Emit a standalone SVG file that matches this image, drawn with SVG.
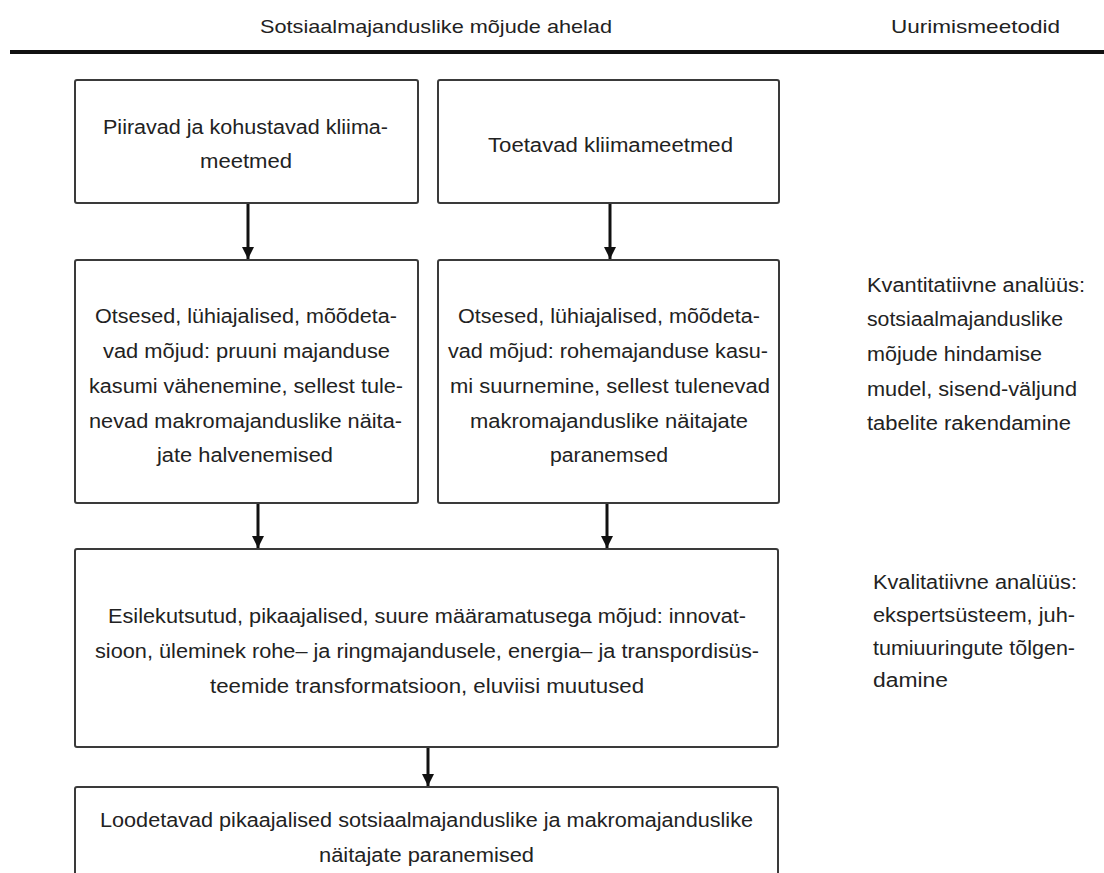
<svg xmlns="http://www.w3.org/2000/svg" width="1104" height="873" viewBox="0 0 1104 873">
<style>
.box{fill:#fff;stroke:#3a3a3a;stroke-width:2}
.t{font-family:"Liberation Sans",Arial,sans-serif;font-size:20px;fill:#222}
.h{font-family:"Liberation Sans",Arial,sans-serif;font-size:19px;fill:#222}
.c{stroke:#111;stroke-width:3;fill:none}
</style>
<defs>
<marker id="ah" markerUnits="userSpaceOnUse" markerWidth="14" markerHeight="14" refX="12" refY="7" orient="auto">
<path d="M0,1 L12,7 L0,13 Z" fill="#111"/>
</marker>
</defs>
<rect width="1104" height="873" fill="#fff"/>
<g id="header">
<text class="h" x="260" y="33" textLength="352" lengthAdjust="spacingAndGlyphs">Sotsiaalmajanduslike mõjude ahelad</text>
<text class="h" x="891" y="33" textLength="169" lengthAdjust="spacingAndGlyphs">Uurimismeetodid</text>
<line x1="10" y1="52" x2="1104" y2="52" stroke="#111" stroke-width="4"/>
</g>
<g id="n1">
<rect class="box" x="75" y="80" width="343" height="123" rx="2"/>
<text class="t" x="103" y="134" textLength="285" lengthAdjust="spacingAndGlyphs">Piiravad ja kohustavad kliima-</text>
<text class="t" x="200" y="168" textLength="92" lengthAdjust="spacingAndGlyphs">meetmed</text>
</g>
<g id="n2">
<rect class="box" x="438" y="80" width="341" height="123" rx="2"/>
<text class="t" x="488" y="152" textLength="245" lengthAdjust="spacingAndGlyphs">Toetavad kliimameetmed</text>
</g>
<g id="n3">
<rect class="box" x="75" y="260" width="343" height="243" rx="2"/>
<text class="t" x="95" y="323" textLength="302" lengthAdjust="spacingAndGlyphs">Otsesed, lühiajalised, mõõdeta-</text>
<text class="t" x="103" y="358" textLength="287" lengthAdjust="spacingAndGlyphs">vad mõjud: pruuni majanduse</text>
<text class="t" x="89" y="393" textLength="314" lengthAdjust="spacingAndGlyphs">kasumi vähenemine, sellest tule-</text>
<text class="t" x="89" y="428" textLength="313" lengthAdjust="spacingAndGlyphs">nevad makromajanduslike näita-</text>
<text class="t" x="157" y="462" textLength="176" lengthAdjust="spacingAndGlyphs">jate halvenemised</text>
</g>
<g id="n4">
<rect class="box" x="438" y="260" width="341" height="243" rx="2"/>
<text class="t" x="458" y="323" textLength="302" lengthAdjust="spacingAndGlyphs">Otsesed, lühiajalised, mõõdeta-</text>
<text class="t" x="448" y="358" textLength="320" lengthAdjust="spacingAndGlyphs">vad mõjud: rohemajanduse kasu-</text>
<text class="t" x="450" y="393" textLength="320" lengthAdjust="spacingAndGlyphs">mi suurnemine, sellest tulenevad</text>
<text class="t" x="470" y="428" textLength="278" lengthAdjust="spacingAndGlyphs">makromajanduslike näitajate</text>
<text class="t" x="550" y="462" textLength="118" lengthAdjust="spacingAndGlyphs">paranemsed</text>
</g>
<g id="n5">
<rect class="box" x="75" y="549" width="703" height="198" rx="2"/>
<text class="t" x="108" y="623" textLength="638" lengthAdjust="spacingAndGlyphs">Esilekutsutud, pikaajalised, suure määramatusega mõjud: innovat-</text>
<text class="t" x="95" y="658" textLength="664" lengthAdjust="spacingAndGlyphs">sioon, üleminek rohe– ja ringmajandusele, energia– ja transpordisüs-</text>
<text class="t" x="210" y="693" textLength="434" lengthAdjust="spacingAndGlyphs">teemide transformatsioon, eluviisi muutused</text>
</g>
<g id="n6">
<rect class="box" x="75" y="787" width="703" height="110" rx="2"/>
<text class="t" x="100" y="827" textLength="653" lengthAdjust="spacingAndGlyphs">Loodetavad pikaajalised sotsiaalmajanduslike ja makromajanduslike</text>
<text class="t" x="319" y="862" textLength="215" lengthAdjust="spacingAndGlyphs">näitajate paranemised</text>
</g>
<g id="m1">
<text class="t" x="867" y="292" textLength="218" lengthAdjust="spacingAndGlyphs">Kvantitatiivne analüüs:</text>
<text class="t" x="867" y="326" textLength="196" lengthAdjust="spacingAndGlyphs">sotsiaalmajanduslike</text>
<text class="t" x="867" y="361" textLength="175" lengthAdjust="spacingAndGlyphs">mõjude hindamise</text>
<text class="t" x="867" y="396" textLength="210" lengthAdjust="spacingAndGlyphs">mudel, sisend-väljund</text>
<text class="t" x="867" y="430" textLength="204" lengthAdjust="spacingAndGlyphs">tabelite rakendamine</text>
</g>
<g id="m2">
<text class="t" x="873" y="589" textLength="204" lengthAdjust="spacingAndGlyphs">Kvalitatiivne analüüs:</text>
<text class="t" x="873" y="622" textLength="202" lengthAdjust="spacingAndGlyphs">ekspertsüsteem, juh-</text>
<text class="t" x="873" y="655" textLength="202" lengthAdjust="spacingAndGlyphs">tumiuuringute tõlgen-</text>
<text class="t" x="873" y="687" textLength="75" lengthAdjust="spacingAndGlyphs">damine</text>
</g>
<g id="connectors">
<line class="c" x1="248" y1="204" x2="248" y2="259" marker-end="url(#ah)"/>
<line class="c" x1="610" y1="204" x2="610" y2="259" marker-end="url(#ah)"/>
<line class="c" x1="258" y1="504" x2="258" y2="548" marker-end="url(#ah)"/>
<line class="c" x1="607" y1="504" x2="607" y2="548" marker-end="url(#ah)"/>
<line class="c" x1="428" y1="748" x2="428" y2="786" marker-end="url(#ah)"/>
</g>
</svg>
